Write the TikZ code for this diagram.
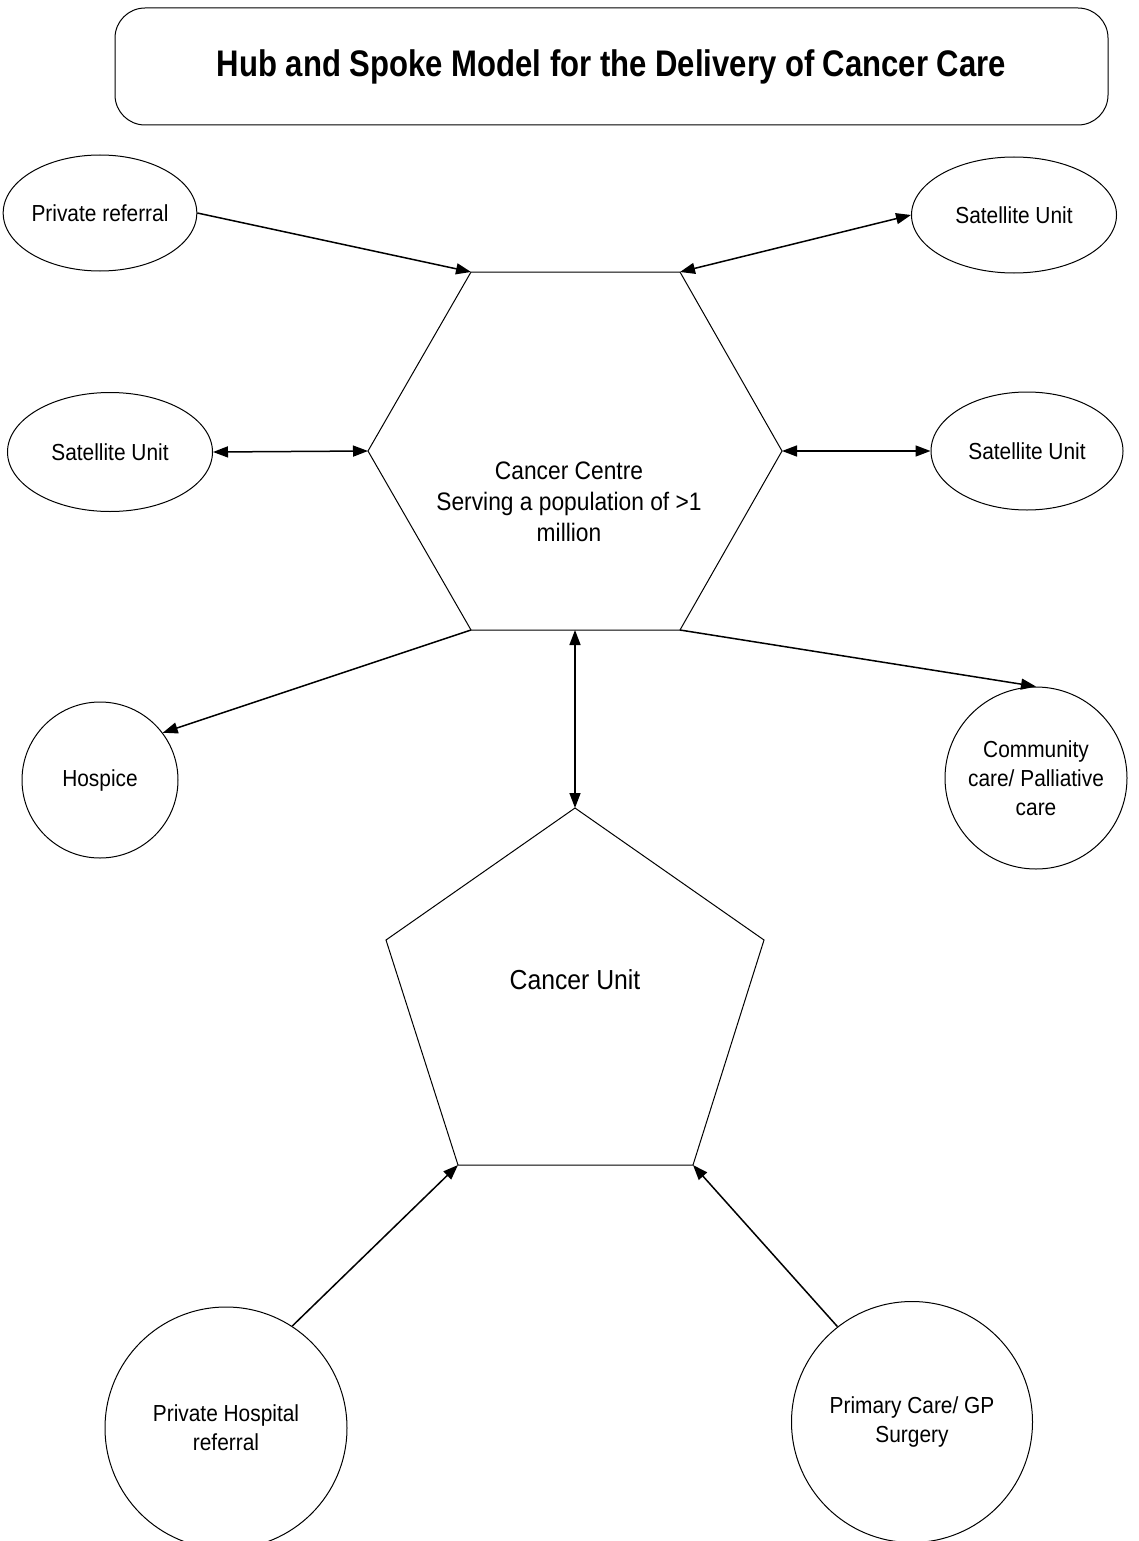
\documentclass[tikz,border=0pt]{standalone}
\usepackage{fontspec}
\setmainfont{Liberation Sans}
\newfontfamily\labelfont[FakeStretch=0.9]{Liberation Sans}
\newfontfamily\titlefont[FakeStretch=0.84]{Liberation Sans}
\usetikzlibrary{arrows.meta,shapes.geometric}

\tikzset{headtip/.tip={Triangle[length=15pt,width=11pt]}}

\begin{document}
\begin{tikzpicture}[x=1pt,y=-1pt,
  outline/.style={draw=black, line width=1pt},
  smalltext/.style={font=\labelfont\fontsize{23.2}{29}\selectfont},
  oval/.style={ellipse, outline, inner sep=0pt, align=center, smalltext},
  ring/.style={circle, outline, inner sep=0pt, align=center, smalltext},
  biglabel/.style={align=center, inner sep=0pt, font=\labelfont\fontsize{25.3}{31}\selectfont},
  link/.style={line width=1.5pt, -headtip},
  twoway/.style={line width=1.5pt, headtip-headtip},
]
\useasboundingbox (0,0) rectangle (1138,1541);
\clip (0,0) rectangle (1138,1541);

% title banner
\node[outline, rounded corners=30pt, minimum width=993pt, minimum height=117pt,
  font=\titlefont\bfseries\fontsize{37}{40}\selectfont] (title) at (611.5,66.5)
  {Hub and Spoke Model for the Delivery of Cancer Care};

% hub: cancer centre hexagon
\coordinate (hTL) at (471,272);
\coordinate (hTR) at (680,272);
\coordinate (hR)  at (782,451);
\coordinate (hBR) at (680,630);
\coordinate (hBL) at (471,630);
\coordinate (hL)  at (368,451);
\coordinate (hB)  at (575,630);
\draw[outline] (hTL) -- (hTR) -- (hR) -- (hBR) -- (hBL) -- (hL) -- cycle;
\node[biglabel] (hub) at (569,502) {Cancer Centre\\Serving a population of >1\\million};

% cancer unit pentagon
\coordinate (pA)  at (575,808);
\coordinate (pUL) at (386,940);
\coordinate (pUR) at (764,940);
\coordinate (pBL) at (458,1165);
\coordinate (pBR) at (693,1165);
\draw[outline] (pA) -- (pUR) -- (pBR) -- (pBL) -- (pUL) -- cycle;
\node[biglabel, font=\labelfont\fontsize{27.5}{31}\selectfont] (unit) at (575,980) {Cancer Unit};

% spokes
\node[oval, minimum width=184pt, minimum height=116pt] (pref)  at (100,213)  {Private referral};
\node[oval, minimum width=205pt, minimum height=116pt] (satTR) at (1014,215) {Satellite Unit};
\node[oval, minimum width=205pt, minimum height=119pt] (satL)  at (110,452)  {Satellite Unit};
\node[oval, minimum width=192pt, minimum height=118pt] (satR)  at (1027,451) {Satellite Unit};
\node[ring, minimum size=156pt] (hospice)   at (100,780)  {Hospice};
\node[ring, minimum size=182pt] (community) at (1036,778) {Community\\care/ Palliative\\care};
\node[ring, minimum size=242pt] (phr) at (226,1428) {Private Hospital\\referral};
\node[ring, minimum size=241pt] (pcs) at (912,1422) {Primary Care/ GP\\Surgery};

% connectors
\draw[link]   (pref.east) -- (hTL);
\draw[twoway] (hTR) -- (satTR.west);
\draw[twoway] (satL.east) -- (hL);
\draw[twoway] (hR) -- (satR.west);
\draw[link]   (hBL) -- (hospice.37);
\draw[link]   (hBR) -- (community.north);
\draw[twoway] (hB) -- (pA);
\draw[link]   (phr.57) -- (pBL);
\draw[link]   (pcs.128) -- (pBR);
\end{tikzpicture}
\end{document}
